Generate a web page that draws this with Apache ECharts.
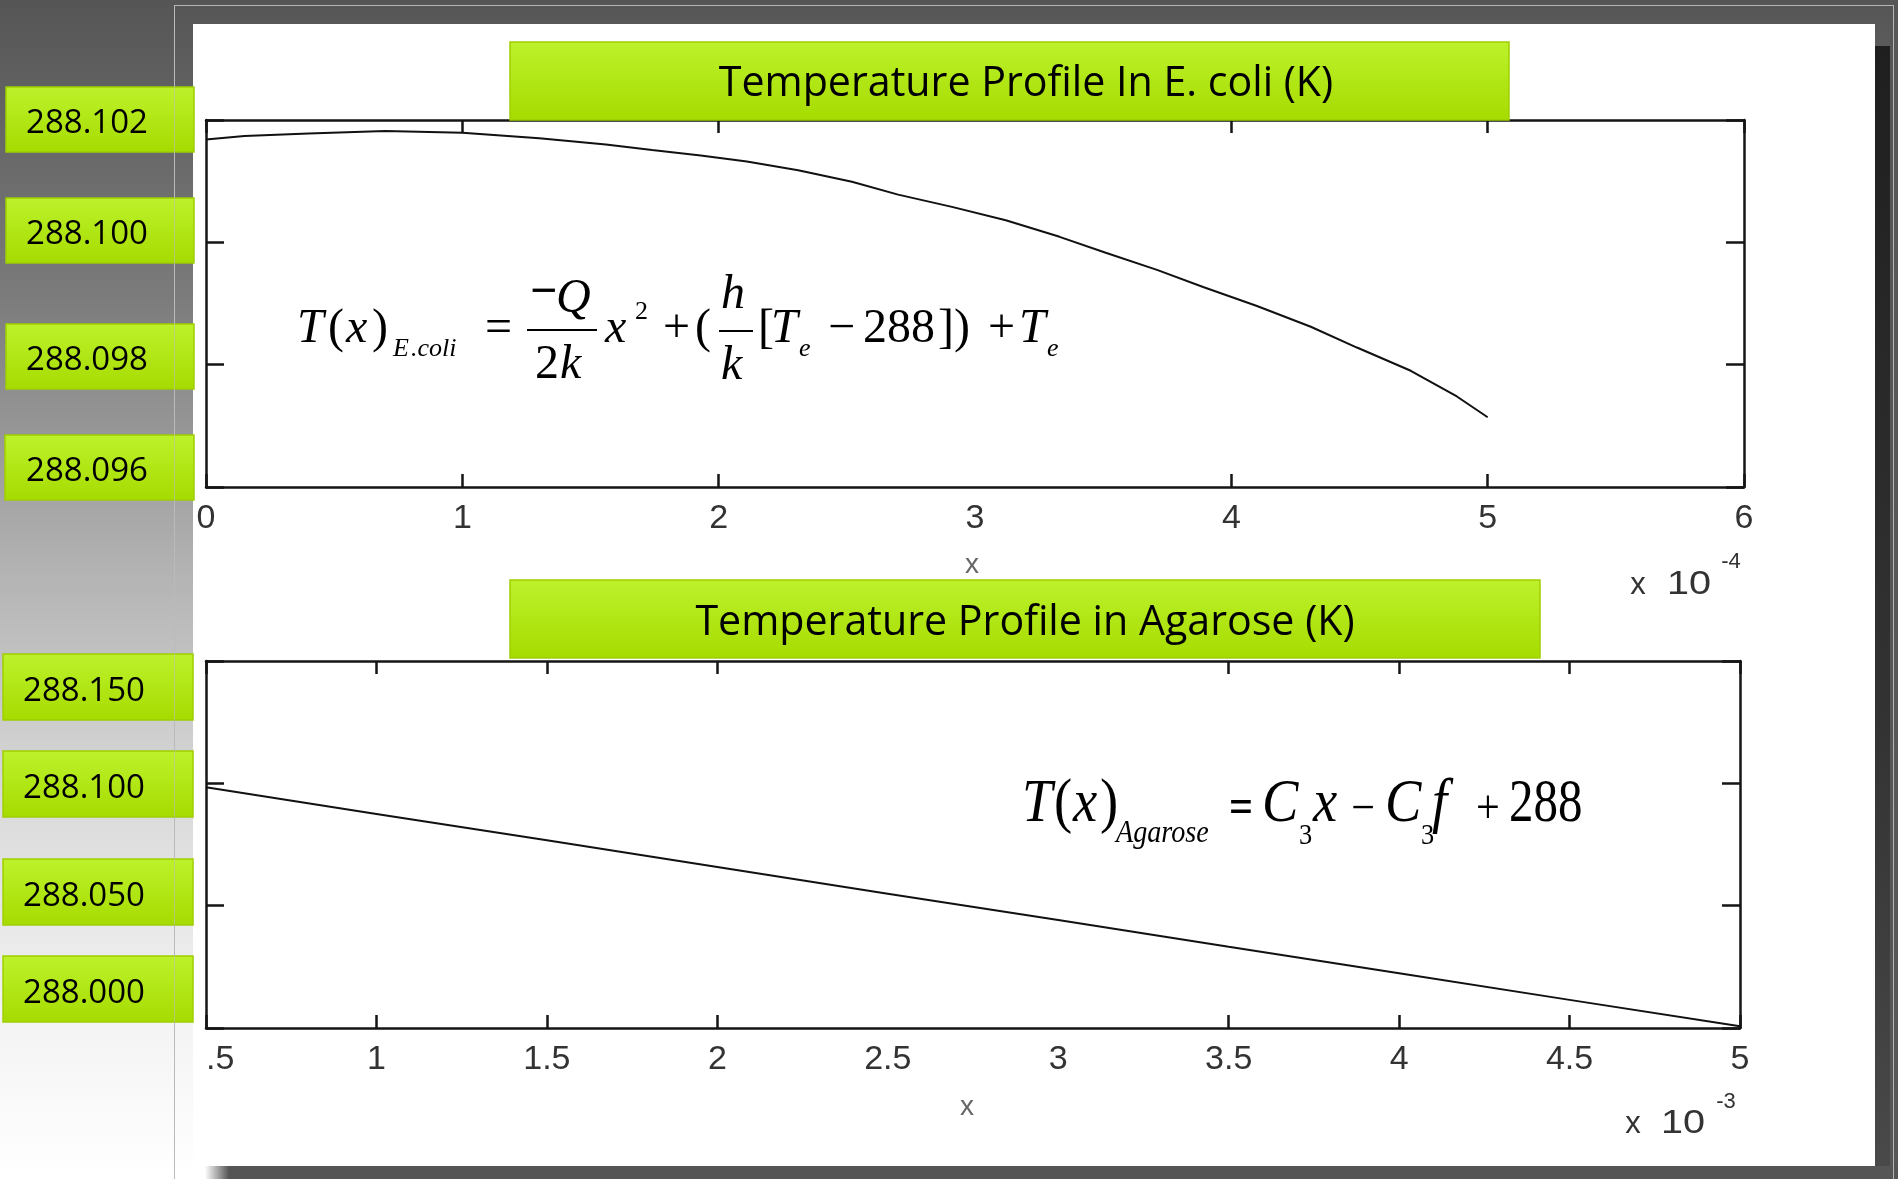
<!DOCTYPE html>
<html><head><meta charset="utf-8">
<script src="https://cdn.jsdelivr.net/npm/echarts@6/dist/echarts.min.js"></script>
<style>
html,body{margin:0;padding:0;width:1898px;height:1179px;overflow:hidden;}
body{position:relative;background:linear-gradient(to bottom,#555555 0%,#7b7b7b 25%,#b2b2b2 48%,#dadada 68%,#f3f3f3 86%,#ffffff 100%);}
.frame{position:absolute;left:174px;top:5px;width:1718px;height:1200px;border:1px solid #b5b5b5;border-bottom:none;}
.shadowRR{position:absolute;left:1890px;top:0;width:8px;height:1179px;background:#575757;}
.shadowR{position:absolute;left:1875px;top:46px;width:15px;height:1133px;background:linear-gradient(#1f1f1f,#333 60%,#4a4a4a);}
.shadowB{position:absolute;left:205px;top:1166px;width:1693px;height:13px;background:linear-gradient(to right,rgba(85,85,85,0),#555 24px);}
.panel{position:absolute;left:193px;top:24px;width:1682px;height:1142px;background:#ffffff;}
#chart{position:absolute;left:0;top:0;width:1898px;height:1179px;}
</style></head>
<body>
<div class="shadowRR"></div><div class="shadowR"></div><div class="shadowB"></div>
<div class="frame"></div><div class="panel"></div>
<div id="chart"></div>
<script>
// ---- data (x in units of 1e-4 m for E. coli, 1e-3 m for agarose) ----
const ecoliX = [0, 0.15, 0.40, 0.70, 1.00, 1.30, 1.56, 1.74, 1.93, 2.11, 2.31, 2.52, 2.70, 2.91, 3.12, 3.33, 3.51, 3.71, 3.89, 4.10, 4.31, 4.49, 4.70, 4.88, 5.00];
const ecoliT = [288.10168, 288.10174, 288.10178, 288.10182, 288.10179, 288.10170, 288.10160, 288.10151, 288.10142, 288.10132, 288.10118, 288.10099, 288.10078, 288.10058, 288.10036, 288.10009, 288.09983, 288.09955, 288.09927, 288.09896, 288.09862, 288.09828, 288.09790, 288.09748, 288.09714];
const agaroseX = [0.5, 1.0, 1.5, 2.0, 2.5, 3.0, 3.5, 4.0, 4.5, 5.0];
const agaroseT = [288.0984, 288.0875, 288.0767, 288.0658, 288.0549, 288.0441, 288.0332, 288.0224, 288.0115, 288.0007];

const ecoliTicks = [0, 1, 2, 3, 4, 5, 6];
const ecoliTickLabels = ['0', '1', '2', '3', '4', '5', '6'];
const ecoliTickMarks = [0, 1, 2, 4, 5, 6];
const agaroseTicks = [0.5, 1, 1.5, 2, 2.5, 3, 3.5, 4, 4.5, 5];
const agaroseTickLabels = ['.5', '1', '1.5', '2', '2.5', '3', '3.5', '4', '4.5', '5'];
const agaroseTickMarks = [0.5, 1, 1.5, 2, 3.5, 4, 4.5, 5];

const ecoliYLabels = ['288.102', '288.100', '288.098', '288.096'];
const agaroseYLabels = ['288.150', '288.100', '288.050', '288.000'];
const title1 = 'Temperature Profile In E. coli (K)';
const title2 = 'Temperature Profile in Agarose (K)';

// ---- layout ----
const chart = echarts.init(document.getElementById('chart'), null, {renderer: 'canvas'});
const AX = '#151515';
function lbl(ticks, labels) {
  return function (v) {
    for (let i = 0; i < ticks.length; i++) if (Math.abs(ticks[i] - v) < 1e-9) return labels[i];
    return '';
  };
}
function xAx(grid, min, max, ticks, marks, labels, pos, showLabel) {
  return {
    type: 'value', gridIndex: grid, min: min, max: max, position: pos,
    axisLine: {show: true, onZero: false, lineStyle: {color: AX, width: 2.5}},
    axisTick: {show: true, inside: true, length: 13, customValues: marks, lineStyle: {color: AX, width: 2.5}},
    axisLabel: {show: showLabel, customValues: ticks, formatter: lbl(ticks, labels), margin: 15,
      fontFamily: 'Liberation Sans', fontSize: 34, color: '#333333', showMinLabel: true, showMaxLabel: true},
    splitLine: {show: false}
  };
}
function yAx(grid, min, max, interval, pos) {
  return {
    type: 'value', gridIndex: grid, min: min, max: max, interval: interval, position: pos,
    axisLine: {show: true, onZero: false, lineStyle: {color: AX, width: 2.5}},
    axisTick: {show: true, inside: true, length: 18, lineStyle: {color: AX, width: 2.5}},
    axisLabel: {show: false}, splitLine: {show: false}
  };
}

const G = [];
function txt(s, x, y, size, o) {
  o = o || {};
  G.push({type: 'text', x: x, y: y, z: 100, silent: true, scaleX: o.sx || 1,
    style: {text: s, fontSize: size, fontFamily: o.ff || 'Liberation Serif', fontStyle: o.it ? 'italic' : 'normal',
      fontWeight: o.bold ? 'bold' : 'normal', fill: o.fill || '#000', align: o.align || 'left', verticalAlign: 'middle'}});
}
// serif text positioned by baseline
function ser(s, x, base, size, o) { txt(s, x, base - 0.3375 * size, size, o); }
function bar(x1, x2, y, w) {
  G.push({type: 'line', z: 100, silent: true, shape: {x1: x1, y1: y, x2: x2, y2: y}, style: {stroke: '#000', lineWidth: w || 2}});
}
const greenFill = {type: 'linear', x: 0, y: 0, x2: 0, y2: 1, colorStops: [{offset: 0, color: '#bdf22c'}, {offset: 1, color: '#a6db00'}]};
function gbox(x, y, w, h) {
  G.push({type: 'rect', z: 99, silent: true, shape: {x: x, y: y, width: w, height: h},
    style: {fill: greenFill, stroke: '#9fce00', lineWidth: 1.5}});
}

// left column value boxes
const topBoxes = [[6, 87], [6, 198], [6, 324], [5, 435]];
topBoxes.forEach((b, i) => { gbox(b[0], b[1], 194 - b[0], 65); txt(ecoliYLabels[i], 87, b[1] + 37, 33, {ff: 'Open Sans', align: 'center'}); });
const botBoxes = [[3, 654], [3, 751], [3, 859], [3, 956]];
botBoxes.forEach((b, i) => { gbox(b[0], b[1], 190, 66); txt(agaroseYLabels[i], 84, b[1] + 37.5, 33, {ff: 'Open Sans', align: 'center'}); });
G.push({type: 'line', z: 101, silent: true, shape: {x1: 174.5, y1: 5, x2: 174.5, y2: 1179}, style: {stroke: 'rgba(190,190,190,0.55)', lineWidth: 1}});

// titles
gbox(510, 42, 999, 78);
txt(title1, 1026, 84.5, 42, {ff: 'Open Sans', align: 'center', sx: 0.98});
gbox(510, 580, 1030, 78);
txt(title2, 1025, 623, 42, {ff: 'Open Sans', align: 'center', sx: 0.98});

// axis scale notes and x labels
txt('x', 1638, 585, 31, {ff: 'Liberation Sans', fill: '#333', align: 'center'});
txt('10', 1689, 585, 33, {ff: 'Liberation Sans', fill: '#333', align: 'center', sx: 1.2});
txt('-4', 1731, 562, 22, {ff: 'Liberation Sans', fill: '#333', align: 'center'});
txt('x', 1633, 1124, 31, {ff: 'Liberation Sans', fill: '#333', align: 'center'});
txt('10', 1683, 1124, 33, {ff: 'Liberation Sans', fill: '#333', align: 'center', sx: 1.2});
txt('-3', 1726, 1102, 22, {ff: 'Liberation Sans', fill: '#333', align: 'center'});
txt('x', 972, 565, 28, {ff: 'Liberation Sans', fill: '#666', align: 'center'});
txt('x', 967, 1107, 28, {ff: 'Liberation Sans', fill: '#666', align: 'center'});

// E. coli equation
const B = 346;
ser('T', 297, B, 48, {it: true}); ser('(', 328, B, 48); ser('x', 346, B, 48, {it: true}); ser(')', 372, B, 48);
ser('E', 393, 358, 26, {it: true}); ser('.coli', 411, 358, 26, {it: true});
ser('=', 485, B, 48);
ser('\u2212', 530, 310, 48, {bold: true}); ser('Q', 556, 316, 48, {it: true});
bar(527, 597, 330, 2);
ser('2', 535, 382, 48); ser('k', 560, 382, 48, {it: true});
ser('x', 605, B, 48, {it: true}); ser('2', 635, 321, 26);
ser('+', 663, B, 48);
ser('(', 695, B, 48);
ser('h', 721, 312, 48, {it: true}); bar(719, 753, 331, 2); ser('k', 721, 383, 48, {it: true});
ser('[', 758, B, 48); ser('T', 771, B, 48, {it: true}); ser('e', 799, 358, 26, {it: true});
ser('\u2212', 828, B, 48); ser('288', 863, B, 48); ser('])', 938, B, 48);
ser('+', 988, B, 48); ser('T', 1019, B, 48, {it: true}); ser('e', 1047, 358, 26, {it: true});

// Agarose equation
const C = 826, S = 0.88;
ser('T', 1022, C, 62, {it: true, sx: S}); ser('(', 1054, C, 62, {sx: S}); ser('x', 1073, C, 62, {it: true, sx: S}); ser(')', 1100, C, 62, {sx: S});
ser('Agarose', 1116, 844, 32, {it: true, sx: S});
ser('=', 1229, 826, 48, {bold: true, sx: S});
ser('C', 1262, C, 62, {it: true, sx: S}); ser('3', 1299, 846, 30, {sx: S}); ser('x', 1313, C, 62, {it: true, sx: S});
ser('\u2212', 1351, 827, 48, {sx: S});
ser('C', 1385, C, 62, {it: true, sx: S}); ser('3', 1421, 846, 30, {sx: S}); ser('f', 1432, C, 62, {it: true, sx: S});
ser('+', 1476, 827, 48, {sx: S});
ser('288', 1509, C, 62, {sx: 0.79});

const option = {
  animation: false,
  backgroundColor: 'transparent',
  grid: [
    {left: 206, top: 120, width: 1538, height: 367, containLabel: false},
    {left: 206, top: 661, width: 1534, height: 367, containLabel: false}
  ],
  xAxis: [
    xAx(0, 0, 6, ecoliTicks, ecoliTickMarks, ecoliTickLabels, 'bottom', true),
    xAx(0, 0, 6, ecoliTicks, ecoliTickMarks, ecoliTickLabels, 'top', false),
    xAx(1, 0.5, 5, agaroseTicks, agaroseTickMarks, agaroseTickLabels, 'bottom', true),
    xAx(1, 0.5, 5, agaroseTicks, agaroseTickMarks, agaroseTickLabels, 'top', false)
  ],
  yAxis: [
    yAx(0, 288.096, 288.102, 0.002, 'left'),
    yAx(0, 288.096, 288.102, 0.002, 'right'),
    yAx(1, 288.0, 288.15, 0.05, 'left'),
    yAx(1, 288.0, 288.15, 0.05, 'right')
  ],
  series: [
    {type: 'line', xAxisIndex: 0, yAxisIndex: 0, data: ecoliX.map((x, i) => [x, ecoliT[i]]),
      showSymbol: false, symbol: 'none', lineStyle: {color: '#111', width: 2}, z: 3, silent: true},
    {type: 'line', xAxisIndex: 2, yAxisIndex: 2, data: agaroseX.map((x, i) => [x, agaroseT[i]]),
      showSymbol: false, symbol: 'none', lineStyle: {color: '#111', width: 2}, z: 3, silent: true}
  ],
  graphic: G
};
option.xAxis[2].axisLabel.alignMinLabel = 'left';
chart.setOption(option);
</script>
</body></html>
